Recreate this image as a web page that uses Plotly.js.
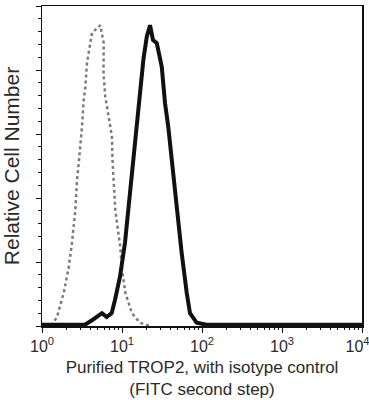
<!DOCTYPE html>
<html><head><meta charset="utf-8">
<script src="https://cdn.plot.ly/plotly-3.0.1.min.js"></script>
<style>html,body{margin:0;padding:0;background:#fff}#chart{width:369px;height:400px}</style>
</head><body><div id="chart"></div>
<script>
// Isotype control (gray dotted)
const isoX = [1.09, 1.33, 1.54, 1.87, 2.16, 2.37, 2.61, 2.74, 2.88, 3.01, 3.16, 3.32, 3.48, 3.65, 4.22, 5.35, 5.91, 5.87, 6.18, 6.82, 7.50, 7.61, 7.87, 8.25, 9.52, 10.0, 11.0, 13.3, 16.8, 22.4];
const isoY = [0.00, 0.02, 0.14, 0.52, 0.92, 1.30, 1.81, 2.28, 2.55, 2.80, 3.11, 3.53, 3.73, 4.11, 4.58, 4.70, 4.42, 3.95, 3.58, 3.27, 2.95, 2.59, 2.28, 1.81, 1.23, 0.88, 0.52, 0.20, 0.05, 0.00];
// Purified TROP2 (black)
const tropX = [1.0, 3.44, 4.22, 5.62, 6.44, 7.43, 8.18, 9.44, 10.9, 12.6, 13.8, 14.5, 16.0, 17.6, 18.5, 20.4, 22.4, 24.4, 27.2, 31.4, 34.5, 37.9, 41.8, 48.3, 55.7, 64.4, 70.8, 85.9, 114, 10000];
const tropY = [0.02, 0.02, 0.09, 0.20, 0.14, 0.20, 0.41, 0.77, 1.30, 2.08, 2.55, 2.86, 3.38, 3.89, 4.16, 4.52, 4.70, 4.47, 4.42, 4.05, 3.48, 3.11, 2.59, 1.81, 1.14, 0.52, 0.20, 0.05, 0.02, 0.02];
const xTickVals = [1, 10, 100, 1000, 10000];
const xTickText = ['10<sup>0</sup>', '10<sup>1</sup>', '10<sup>2</sup>', '10<sup>3</sup>', '10<sup>4</sup>\u00a0\u00a0'];
const xMinorVals = [];
[1, 10, 100, 1000].forEach(d => { for (let k = 2; k <= 9; k++) xMinorVals.push(d * k); });

const traces = [
  {x: isoX, y: isoY, type: 'scatter', mode: 'lines', name: 'Isotype control',
   line: {color: '#7a7a7a', width: 2.5, dash: 'dot'}, hoverinfo: 'skip'},
  {x: tropX, y: tropY, type: 'scatter', mode: 'lines', name: 'Purified TROP2',
   line: {color: '#111', width: 4}, hoverinfo: 'skip'},
  {x: [xTickVals[0], xTickVals[4]], y: [0, 0], xaxis: 'x2', type: 'scatter', mode: 'lines',
   line: {width: 0}, opacity: 0, hoverinfo: 'skip', showlegend: false}
];
const fam = 'Liberation Sans, Arial, sans-serif';
const txt = '#2a2a2a';
const layout = {
  width: 369, height: 400,
  margin: {l: 42, r: 7, t: 6, b: 74, autoexpand: false},
  paper_bgcolor: '#fff', plot_bgcolor: '#fff',
  showlegend: false,
  font: {family: fam, color: txt},
  xaxis: {
    type: 'log', range: [0, 4], tickmode: 'array', tickvals: xTickVals, ticktext: xTickText,
    ticks: 'outside', ticklen: 5, tickcolor: '#111', tickwidth: 1,
    ticklabeloverflow: 'allow',
    showgrid: false, zeroline: false, showline: true, linecolor: '#111', linewidth: 1.5, mirror: true,
    automargin: false,
    tickfont: {size: 16, family: fam, color: txt},
    title: {text: 'Purified TROP2, with isotype control<br>(FITC second step)', font: {size: 17, family: fam, color: txt}, standoff: 7}
  },
  xaxis2: {
    type: 'log', range: [0, 4], overlaying: 'x', anchor: 'y', side: 'bottom',
    tickmode: 'array', tickvals: xMinorVals, showticklabels: false,
    ticks: 'outside', ticklen: 3, tickcolor: '#111', tickwidth: 1,
    showgrid: false, zeroline: false, showline: false, automargin: false
  },
  yaxis: {
    range: [0, 5], dtick: 1, showticklabels: false,
    ticks: 'outside', ticklen: 5, tickcolor: '#111',
    minor: {dtick: 0.2, ticks: 'outside', ticklen: 3, tickcolor: '#111'},
    showgrid: false, zeroline: false, showline: true, linecolor: '#111', linewidth: 1.5, mirror: true,
    automargin: false,
    title: {text: 'Relative Cell Number', font: {size: 21, family: fam, color: txt}, standoff: 10}
  }
};
Plotly.newPlot('chart', traces, layout, {staticPlot: true, displayModeBar: false});
</script></body></html>
